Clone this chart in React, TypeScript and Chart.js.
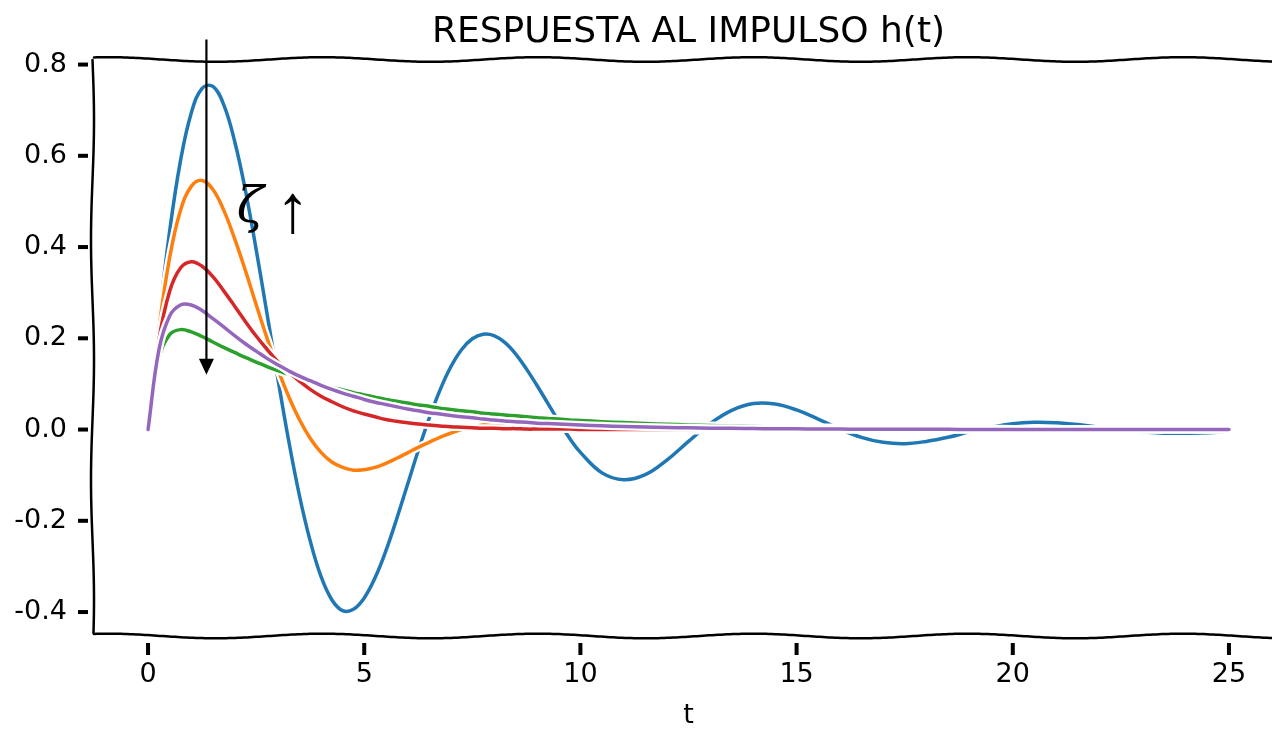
import React, { useEffect, useRef } from 'react';
import { Chart, registerables } from 'chart.js';

Chart.register(...registerables);

// time samples (s)
const tValues = [
  0, 0.25, 0.5, 0.75, 1, 1.25, 1.5, 1.75, 2, 2.25, 2.5, 2.75, 3, 3.25, 3.5, 3.75, 4, 4.25, 4.5, 4.75,
  5, 5.25, 5.5, 5.75, 6, 6.25, 6.5, 6.75, 7, 7.25, 7.5, 7.75, 8, 8.25, 8.5, 8.75, 9, 9.25, 9.5, 9.75, 10,
  10.5, 11, 11.5, 12, 12.5, 13, 13.5, 14, 14.5, 15, 15.5, 16, 16.5, 17, 17.5, 18, 18.5, 19, 19.5, 20,
  20.5, 21, 21.5, 22, 22.5, 23, 23.5, 24, 24.5, 25,
];

// blue (most underdamped)
const seriesBlue = [
  0, 0.235, 0.435, 0.589, 0.694, 0.748, 0.752, 0.712, 0.633, 0.525, 0.395, 0.255, 0.113, -0.023, -0.144, -0.244,
  -0.322, -0.373, -0.397, -0.394, -0.369, -0.325, -0.266, -0.196, -0.121, -0.046, 0.024, 0.086, 0.137, 0.175,
  0.199, 0.209, 0.206, 0.191, 0.166, 0.133, 0.096, 0.057, 0.018, -0.019, -0.05,
  -0.095, -0.11, -0.099, -0.067, -0.026, 0.013, 0.042, 0.057, 0.056, 0.043, 0.023, 0.001, -0.017, -0.028, -0.031,
  -0.026, -0.017, -0.005, 0.005, 0.013, 0.016, 0.015, 0.011, 0.005, -0.001, -0.005, -0.008, -0.008, -0.007, -0.004,
];

// orange
const seriesOrange = [
  0, 0.219, 0.377, 0.48, 0.533, 0.546, 0.526, 0.481, 0.419, 0.349, 0.274, 0.201, 0.133, 0.073, 0.022, -0.019,
  -0.05, -0.071, -0.083, -0.089, -0.088, -0.083, -0.074, -0.063, -0.051, -0.039, -0.028, -0.017, -0.008, 0.0,
  0.006, 0.01, 0.013, 0.014, 0.015, 0.014, 0.013, 0.011, 0.009, 0.007, 0.005,
  0.002, -0.0005, -0.0019, -0.0024, -0.0022, -0.0017, -0.001, -0.0004, 0.0, 0.0003, 0.0004, 0.0004, 0.0003, 0.0002,
  0.0001, 0, 0, 0, 0, 0, 0, 0, 0, 0, 0, 0, 0, 0, 0, 0,
];

// green (most overdamped)
const seriesGreen = [
  0, 0.156, 0.208, 0.219, 0.214, 0.204, 0.192, 0.18, 0.169, 0.158, 0.148, 0.138, 0.129, 0.121, 0.113, 0.106,
  0.099, 0.092, 0.087, 0.081, 0.076, 0.071, 0.066, 0.062, 0.058, 0.054, 0.051, 0.047, 0.044, 0.041,
  0.039, 0.036, 0.034, 0.032, 0.03, 0.028, 0.026, 0.024, 0.023, 0.021, 0.02,
  0.0173, 0.0152, 0.0132, 0.0116, 0.0101, 0.0089, 0.0078, 0.0068, 0.0059, 0.0052, 0.0045, 0.004, 0.0035, 0.003,
  0.0027, 0.0023, 0.002, 0.0018, 0.0016, 0.0014, 0.0012, 0.0011, 0.0009, 0.0008, 0.0007, 0.0006, 0.0005, 0.0005,
  0.0004, 0.0004,
];

// red (critically damped)
const seriesRed = [
  0, 0.195, 0.303, 0.354, 0.368, 0.358, 0.335, 0.304, 0.271, 0.237, 0.205, 0.176, 0.149, 0.126, 0.106, 0.088,
  0.073, 0.061, 0.05, 0.041, 0.034, 0.028, 0.022, 0.018, 0.015, 0.012, 0.01, 0.008, 0.006, 0.005,
  0.004, 0.003, 0.003, 0.002, 0.002, 0.001, 0.001, 0.001, 0.001, 0.001, 0.0,
  0.0003, 0.0002, 0.0001, 0, 0, 0, 0, 0, 0, 0, 0, 0, 0, 0, 0, 0, 0, 0, 0, 0, 0, 0, 0, 0, 0, 0, 0, 0, 0, 0,
];

// purple
const seriesPurple = [
  0, 0.174, 0.249, 0.273, 0.273, 0.261, 0.243, 0.225, 0.206, 0.188, 0.172, 0.156, 0.142, 0.129, 0.117, 0.107,
  0.097, 0.088, 0.08, 0.073, 0.066, 0.06, 0.055, 0.05, 0.045, 0.041, 0.037, 0.034, 0.031, 0.028,
  0.026, 0.023, 0.021, 0.019, 0.017, 0.016, 0.014, 0.013, 0.012, 0.011, 0.01,
  0.0081, 0.0067, 0.0055, 0.0046, 0.0038, 0.0031, 0.0026, 0.0021, 0.0018, 0.0015, 0.0012, 0.001, 0.0008, 0.0007,
  0.0006, 0.0005, 0.0004, 0.0003, 0.0003, 0.0002, 0.0002, 0.0001, 0.0001, 0.0001, 0.0001, 0, 0, 0, 0, 0,
];

const seriesList = [seriesBlue, seriesOrange, seriesGreen, seriesRed, seriesPurple];
const seriesColors = ['#1f77b4', '#ff7f0e', '#2ca02c', '#d62728', '#9467bd'];

const xTickValues = [0, 5, 10, 15, 20, 25];
const xTickLabels = ['0', '5', '10', '15', '20', '25'];
const yTickValues = [-0.4, -0.2, 0, 0.2, 0.4, 0.6, 0.8];
const yTickLabels = ['-0.4', '-0.2', '0.0', '0.2', '0.4', '0.6', '0.8'];

const titleText = 'RESPUESTA AL IMPULSO h(t)';
const xLabelText = 't';
const zetaText = 'ζ';
const upArrowText = '↑';

const FONT = '"DejaVu Sans", sans-serif';

const labelFor = (vals: number[], labels: string[], v: number) => {
  const i = vals.findIndex((x) => Math.abs(x - v) < 1e-9);
  return i >= 0 ? labels[i] : '';
};

const xkcdPlugin = {
  id: 'xkcdDecor',
  afterDatasetsDraw(chart: any) {
    const { ctx, chartArea: a, scales } = chart;
    ctx.save();
    ctx.strokeStyle = '#000';
    ctx.lineWidth = 2.5;
    ctx.lineCap = 'round';
    ctx.lineJoin = 'round';
    const P = 215;
    // top spine
    ctx.beginPath();
    for (let x = a.left; x <= a.right + 3; x += 3) {
      const y = a.top - 0.5 - 2.3 * Math.cos((2 * Math.PI * (x - 1183)) / P);
      if (x === a.left) ctx.moveTo(x, y);
      else ctx.lineTo(x, y);
    }
    ctx.stroke();
    // bottom spine
    ctx.beginPath();
    for (let x = a.left; x <= a.right + 3; x += 3) {
      const y = a.bottom - 1 - 2.3 * Math.cos((2 * Math.PI * (x - 1183)) / P);
      if (x === a.left) ctx.moveTo(x, y);
      else ctx.lineTo(x, y);
    }
    ctx.stroke();
    // left spine
    ctx.beginPath();
    for (let y = a.top; y <= a.bottom - 4; y += 3) {
      const x = a.left - 1.5 + 1.5 * Math.sin((2 * Math.PI * (y - 60)) / 240);
      if (y === a.top) ctx.moveTo(x, y);
      else ctx.lineTo(x, y);
    }
    ctx.stroke();
    // tick marks
    ctx.fillStyle = '#000';
    yTickValues.forEach((v) => {
      const py = scales.y.getPixelForValue(v);
      ctx.fillRect(a.left - 16, py - 2, 10, 4);
    });
    xTickValues.forEach((v) => {
      const px = scales.x.getPixelForValue(v);
      ctx.fillRect(px - 2, a.bottom + 6, 4, 12);
    });
    ctx.restore();
  },
  afterDraw(chart: any) {
    const { ctx, chartArea: a, scales } = chart;
    ctx.save();
    ctx.fillStyle = '#000';
    // title
    ctx.font = `36px ${FONT}`;
    ctx.textAlign = 'center';
    ctx.textBaseline = 'middle';
    ctx.fillText(titleText, (a.left + a.right) / 2, 33);
    // x label
    ctx.font = `27px ${FONT}`;
    ctx.fillText(xLabelText, (a.left + a.right) / 2, 716);
    // annotation arrow
    const ax = scales.x.getPixelForValue(1.35);
    const aTop = scales.y.getPixelForValue(0.855);
    const aTip = scales.y.getPixelForValue(0.12);
    ctx.strokeStyle = '#000';
    ctx.lineWidth = 2.2;
    ctx.beginPath();
    ctx.moveTo(ax, aTop);
    ctx.lineTo(ax, aTip - 14);
    ctx.stroke();
    ctx.beginPath();
    ctx.moveTo(ax - 7.5, aTip - 16);
    ctx.lineTo(ax + 7.5, aTip - 16);
    ctx.lineTo(ax, aTip);
    ctx.closePath();
    ctx.fill();
    // annotation text
    ctx.textAlign = 'left';
    ctx.textBaseline = 'alphabetic';
    ctx.font = 'italic 50px "DejaVu Serif", "Liberation Serif", serif';
    ctx.fillText(zetaText, scales.x.getPixelForValue(2.05), scales.y.getPixelForValue(0.455));
    ctx.font = '68px "Liberation Serif", "DejaVu Serif", serif';
    ctx.fillText(upArrowText, scales.x.getPixelForValue(2.95), scales.y.getPixelForValue(0.432));
    ctx.restore();
  },
};

export default function App() {
  const canvasRef = useRef<HTMLCanvasElement | null>(null);

  useEffect(() => {
    const canvas = canvasRef.current;
    if (!canvas) return;
    const datasets: any[] = [];
    seriesList.forEach((vals, k) => {
      const data = tValues.map((t, i) => ({ x: t, y: vals[i] }));
      datasets.push({
        data,
        borderColor: '#ffffff',
        borderWidth: 8,
        order: 100 - 2 * k,
        pointRadius: 0,
        tension: 0.4,
        fill: false,
      });
      datasets.push({
        data,
        borderColor: seriesColors[k],
        borderWidth: 3.5,
        order: 99 - 2 * k,
        pointRadius: 0,
        tension: 0.4,
        fill: false,
      });
    });

    const chart = new Chart(canvas, {
      type: 'line',
      data: { datasets },
      options: {
        animation: false,
        responsive: false,
        maintainAspectRatio: false,
        layout: { padding: { top: 60, left: 0, right: 0, bottom: 0 } },
        plugins: {
          legend: { display: false },
          title: { display: false },
          tooltip: { enabled: false },
        },
        elements: { point: { radius: 0 }, line: { borderCapStyle: 'round', borderJoinStyle: 'round' } },
        scales: {
          x: {
            type: 'linear',
            min: -1.25,
            max: 26.25,
            grid: { display: false, drawTicks: false },
            border: { display: false },
            afterFit: (s: any) => {
              s.height = 92;
            },
            afterBuildTicks: (s: any) => {
              s.ticks = xTickValues.map((v) => ({ value: v }));
            },
            ticks: {
              padding: 22,
              color: '#000',
              font: { family: FONT, size: 27 },
              maxRotation: 0,
              autoSkip: false,
              callback: (v: any) => labelFor(xTickValues, xTickLabels, Number(v)),
            },
          },
          y: {
            type: 'linear',
            min: -0.4547,
            max: 0.81,
            grid: { display: false, drawTicks: false },
            border: { display: false },
            afterFit: (s: any) => {
              s.width = 94;
            },
            afterBuildTicks: (s: any) => {
              s.ticks = yTickValues.map((v) => ({ value: v }));
            },
            ticks: {
              padding: 27,
              color: '#000',
              font: { family: FONT, size: 27 },
              autoSkip: false,
              callback: (v: any) => labelFor(yTickValues, yTickLabels, Number(v)),
            },
          },
        },
      },
      plugins: [xkcdPlugin],
    } as any);

    return () => {
      chart.destroy();
    };
  }, []);

  return (
    <div
      style={{
        position: 'absolute',
        left: 0,
        top: 0,
        width: 1272,
        height: 729,
        overflow: 'hidden',
        background: '#ffffff',
      }}
    >
      <canvas ref={canvasRef} width={1283} height={729} style={{ display: 'block' }} />
    </div>
  );
}
